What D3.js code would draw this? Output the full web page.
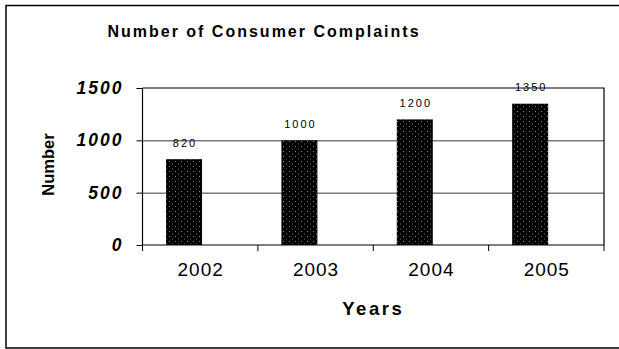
<!DOCTYPE html>
<html>
<head>
<meta charset="utf-8">
<script src="https://cdn.jsdelivr.net/npm/d3@7"></script>
<style>
  html, body { margin: 0; padding: 0; background: #fff; }
  svg { display: block; }
</style>
</head>
<body>
<div id="chart"></div>
<script>
const years = ['2002', '2003', '2004', '2005'];
const complaints = [820, 1000, 1200, 1350];
const yTicks = [0, 500, 1000, 1500];
const gridTicks = [500, 1000];

const FONT = '"Liberation Sans", Arial, sans-serif';
const W = 619;
const H = 349;
const plot = { left: 142.5, right: 604, top: 88, bottom: 245 };

const svg = d3.select('#chart').append('svg').attr('width', W).attr('height', H);

// dotted black fill, like the old spreadsheet pattern
const defs = svg.append('defs');
const pat = defs
  .append('pattern')
  .attr('id', 'dots')
  .attr('width', 6)
  .attr('height', 5)
  .attr('patternUnits', 'userSpaceOnUse');
pat.append('rect').attr('width', 6).attr('height', 5).attr('fill', '#000');
pat.append('rect').attr('x', 1).attr('y', 1).attr('width', 1).attr('height', 1).attr('fill', '#8a8a8a');
pat.append('rect').attr('x', 4).attr('y', 3.5).attr('width', 1).attr('height', 1).attr('fill', '#6a6a6a');

// outer frame (runs off the right edge)
svg
  .append('rect')
  .attr('x', 6)
  .attr('y', 5.5)
  .attr('width', 640)
  .attr('height', 342.5)
  .attr('fill', 'none')
  .attr('stroke', '#000')
  .attr('stroke-width', 1.5);

const x = d3.scaleBand().domain(years).range([plot.left, plot.right]).padding(0);
const y = d3.scaleLinear().domain([0, 1500]).range([plot.bottom, plot.top]);
const plotW = plot.right - plot.left;

// gridlines
svg
  .append('g')
  .attr('transform', `translate(${plot.left},0)`)
  .call(d3.axisLeft(y).tickValues(gridTicks).tickSize(-plotW).tickFormat(''))
  .call((g) => g.select('.domain').remove())
  .selectAll('.tick line')
  .attr('stroke', '#3a3a3a')
  .attr('stroke-width', 1);

// top and right edge of plot area
svg
  .append('path')
  .attr('d', `M${plot.left},${y(1500)}H${plot.right}V${plot.bottom}`)
  .attr('fill', 'none')
  .attr('stroke', '#000')
  .attr('stroke-width', 1.2);

// bars, offset left inside each category like the source
const barOffset = x.bandwidth() * 0.204;
const barW = x.bandwidth() * 0.312;
svg
  .append('g')
  .selectAll('rect')
  .data(complaints)
  .join('rect')
  .attr('x', (d, i) => x(years[i]) + barOffset)
  .attr('y', (d) => y(d))
  .attr('width', barW)
  .attr('height', (d) => y(0) - y(d))
  .attr('fill', 'url(#dots)');

// value labels
svg
  .append('g')
  .selectAll('text')
  .data(complaints)
  .join('text')
  .attr('x', (d, i) => x(years[i]) + barOffset + barW / 2 + 1)
  .attr('y', (d) => y(d) - 12.5)
  .attr('text-anchor', 'middle')
  .attr('font-family', FONT)
  .attr('font-size', 11)
  .attr('letter-spacing', 2)
  .attr('fill', '#000')
  .text((d) => d);

// y axis
const yAxis = svg
  .append('g')
  .attr('transform', `translate(${plot.left},0)`)
  .call(d3.axisLeft(y).tickValues(yTicks).tickSize(6).tickPadding(13).tickFormat(d3.format('d')));
yAxis.select('.domain').attr('stroke', '#000').attr('stroke-width', 1.2).attr('d', `M0,${plot.top}V${plot.bottom}`);
yAxis.selectAll('.tick line').attr('stroke', '#000');
yAxis
  .selectAll('.tick text')
  .attr('fill', '#000')
  .attr('font-family', FONT)
  .attr('font-size', 17.5)
  .attr('font-weight', 700)
  .attr('font-style', 'italic')
  .attr('letter-spacing', 2);

// x axis: labels at band centres, ticks at band edges
const xAxis = svg
  .append('g')
  .attr('transform', `translate(0,${plot.bottom})`)
  .call(d3.axisBottom(x).tickSize(0).tickPadding(18));
xAxis.select('.domain').attr('stroke', '#000').attr('stroke-width', 1.2).attr('d', `M${plot.left},0H${plot.right}`);
xAxis
  .selectAll('.tick text')
  .attr('fill', '#000')
  .attr('font-family', FONT)
  .attr('font-size', 19)
  .attr('letter-spacing', 1)
  .attr('dx', '0.5');

const edges = years.map((d) => x(d)).concat([plot.right]);
xAxis
  .selectAll('.edge')
  .data(edges)
  .join('line')
  .attr('class', 'edge')
  .attr('x1', (d) => d)
  .attr('x2', (d) => d)
  .attr('y1', 0)
  .attr('y2', 6)
  .attr('stroke', '#000');

// titles
svg
  .append('text')
  .attr('x', 264)
  .attr('y', 37)
  .attr('text-anchor', 'middle')
  .attr('font-family', FONT)
  .attr('font-size', 16)
  .attr('font-weight', 700)
  .attr('letter-spacing', 2)
  .text('Number of Consumer Complaints');

svg
  .append('text')
  .attr('x', (plot.left + plot.right) / 2)
  .attr('y', 315)
  .attr('text-anchor', 'middle')
  .attr('font-family', FONT)
  .attr('font-size', 18.5)
  .attr('font-weight', 700)
  .attr('letter-spacing', 2.5)
  .text('Years');

svg
  .append('text')
  .attr('transform', `translate(53.5,${(plot.top + plot.bottom) / 2 - 2}) rotate(-90)`)
  .attr('text-anchor', 'middle')
  .attr('font-family', FONT)
  .attr('font-size', 16.5)
  .attr('font-weight', 700)
  .text('Number');
</script>
</body>
</html>
